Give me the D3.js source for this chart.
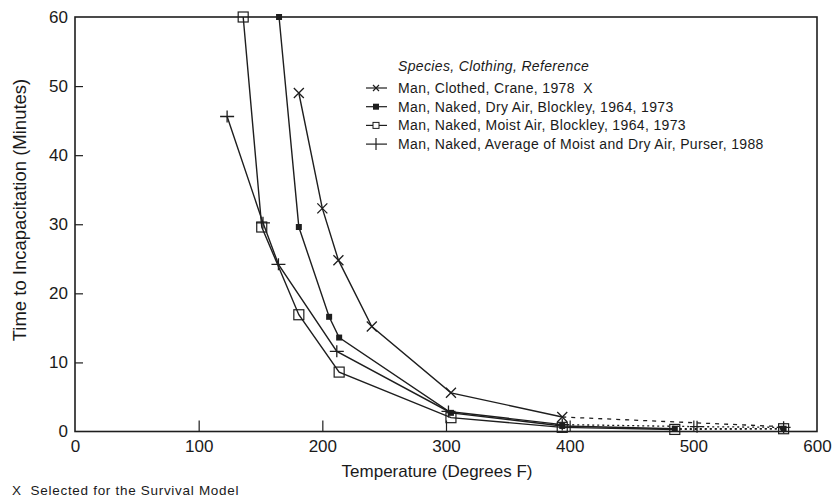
<!DOCTYPE html>
<html><head><meta charset="utf-8">
<script src="https://cdn.jsdelivr.net/npm/d3@7"></script>
<style>
body{margin:0;background:#fff;}
text{font-family:"Liberation Sans",Arial,sans-serif;fill:#1a1a1a;white-space:pre;}
</style></head>
<body><svg id="c" width="835" height="501"></svg>
<script>
// ---- data ----
const xTicks = [0,100,200,300,400,500,600];
const yTicks = [0,10,20,30,40,50,60];
const seriesNames = [
  "Man, Clothed, Crane, 1978\u00a0\u00a0X",
  "Man, Naked, Dry Air, Blockley, 1964, 1973",
  "Man, Naked, Moist Air, Blockley, 1964, 1973",
  "Man, Naked, Average of Moist and Dry Air, Purser, 1988"
];
const craneTemp   = [181, 200, 213, 240, 304, 394, 573];
const craneTime   = [49, 32.3, 24.8, 15.2, 5.6, 2.1, 0.7];
const dryTemp     = [165, 181, 205.5, 213.6, 304, 394, 485, 573];
const dryTime     = [60, 29.6, 16.6, 13.6, 2.7, 0.8, 0.4, 0.4];
const moistTemp   = [136, 151, 181, 213.6, 304, 394, 485, 573];
const moistTime   = [60, 29.6, 16.9, 8.6, 2.0, 0.6, 0.3, 0.4];
const purserTemp  = [123, 152, 164.5, 211.7, 302, 394, 503, 573];
const purserTime  = [45.6, 30.2, 24.2, 11.6, 2.9, 1.0, 0.7, 0.6];

const svg = d3.select("#c");
const x = d3.scaleLinear().domain([0,600]).range([75,817]);
const y = d3.scaleLinear().domain([0,60]).range([431.5,17]);
const ink = "#1e1e1e";

// frame
svg.append("rect").attr("x",x(0)).attr("y",y(60)).attr("width",x(600)-x(0)).attr("height",y(0)-y(60))
  .attr("fill","none").attr("stroke",ink).attr("stroke-width",1.6);

// axes
const xAxis = svg.append("g").attr("transform",`translate(0,${y(0)})`)
  .call(d3.axisBottom(x).tickValues(xTicks).tickSizeInner(-11).tickSizeOuter(0).tickPadding(8));
const yAxis = svg.append("g").attr("transform",`translate(${x(0)},0)`)
  .call(d3.axisLeft(y).tickValues(yTicks).tickSizeInner(-8).tickSizeOuter(0).tickPadding(7));
[xAxis,yAxis].forEach(g=>{
  g.select(".domain").remove();
  g.selectAll("line").attr("stroke",ink).attr("stroke-width",1.2);
  g.selectAll("text").attr("font-size",17).attr("fill","#1a1a1a").attr("font-family","Liberation Sans, Arial, sans-serif");
});
xAxis.selectAll(".tick line").filter(d=>d===0||d===600).remove();
yAxis.selectAll(".tick line").filter(d=>d===0||d===60).remove();

// titles
svg.append("text").attr("x",437).attr("y",477).attr("text-anchor","middle")
  .attr("font-size",17).text("Temperature (Degrees F)");
svg.append("text").attr("transform",`translate(26,210) rotate(-90)`).attr("text-anchor","middle")
  .attr("font-size",18.5).text("Time to Incapacitation (Minutes)");
svg.append("text").attr("x",12).attr("y",495).attr("font-size",13.5).attr("letter-spacing",0.7)
  .text("X\u00a0\u00a0Selected for the Survival Model");

// markers
function marker(g, type, cx, cy){
  if(type==="x"){
    g.append("path").attr("d",`M${cx-5},${cy-5}L${cx+5},${cy+5}M${cx-5},${cy+5}L${cx+5},${cy-5}`)
      .attr("stroke",ink).attr("stroke-width",1.3).attr("fill","none");
  } else if(type==="filled"){
    g.append("rect").attr("x",cx-3).attr("y",cy-3).attr("width",6).attr("height",6).attr("fill",ink);
  } else if(type==="open"){
    g.append("rect").attr("x",cx-5).attr("y",cy-5).attr("width",10).attr("height",10)
      .attr("fill","none").attr("stroke",ink).attr("stroke-width",1.2);
  } else if(type==="plus"){
    g.append("path").attr("d",`M${cx-7},${cy}L${cx+7},${cy}M${cx},${cy-6}L${cx},${cy+6}`)
      .attr("stroke",ink).attr("stroke-width",1.3).attr("fill","none");
  }
}

const series = [
  {t:craneTemp, v:craneTime, m:"x", solidN:6, dash:"4,5", markN:6},
  {t:dryTemp, v:dryTime, m:"filled", solidN:7, dash:"2,3", markN:8},
  {t:moistTemp, v:moistTime, m:"open", solidN:7, dash:"2,3", markN:8},
  {t:purserTemp, v:purserTime, m:"plus", solidN:6, dash:"2,3", markN:8}
];
const line = d3.line().x(d=>x(d[0])).y(d=>y(d[1]));
series.forEach(s=>{
  const pts = s.t.map((t,i)=>[t,s.v[i]]);
  const g = svg.append("g");
  g.append("path").attr("d",line(pts.slice(0,s.solidN))).attr("fill","none").attr("stroke",ink).attr("stroke-width",1.4);
  g.append("path").attr("d",line(pts.slice(s.solidN-1))).attr("fill","none").attr("stroke",ink)
    .attr("stroke-width",1.3).attr("stroke-dasharray",s.dash);
  pts.slice(0,s.markN).forEach(p=>marker(g,s.m,x(p[0]),y(p[1])));
});

// legend
const lg = svg.append("g");
lg.append("text").attr("x",398).attr("y",71).attr("font-size",14).attr("letter-spacing",0.35).attr("font-style","italic")
  .text("Species, Clothing, Reference");
seriesNames.forEach((n,i)=>{
  const cy = 88 + i*18.7;
  lg.append("line").attr("x1",366).attr("x2",387).attr("y1",cy).attr("y2",cy).attr("stroke",ink).attr("stroke-width",1.2);
  const g = lg.append("g");
  const type = series[i].m;
  if(type==="x"){
    g.append("path").attr("d",`M${376-3},${cy-3}L${376+3},${cy+3}M${376-3},${cy+3}L${376+3},${cy-3}`).attr("stroke",ink).attr("stroke-width",1.2);
  } else if(type==="filled"){
    g.append("rect").attr("x",373).attr("y",cy-3).attr("width",6).attr("height",6).attr("fill",ink);
  } else if(type==="open"){
    g.append("rect").attr("x",373).attr("y",cy-3).attr("width",6).attr("height",6).attr("fill","#fff").attr("stroke",ink);
  } else {
    g.append("path").attr("d",`M${376},${cy-6}L${376},${cy+6}`).attr("stroke",ink).attr("stroke-width",1.2);
  }
  lg.append("text").attr("x",398).attr("y",cy+5).attr("font-size",14).attr("letter-spacing",0.35).text(n);
});
</script></body></html>
